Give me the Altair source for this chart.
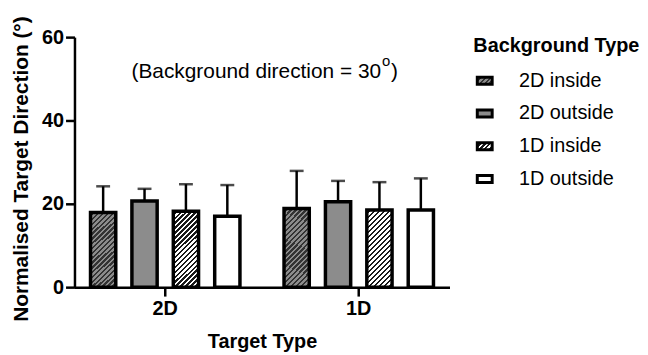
import altair as alt
import pandas as pd

# ---------------- data ----------------
target_types = ["2D", "1D"]
background_types = ["2D inside", "2D outside", "1D inside", "1D outside"]
means_2d = [17.9, 20.7, 18.2, 17.0]
sd_2d = [6.3, 2.9, 6.5, 7.5]
means_1d = [18.9, 20.5, 18.5, 18.5]
sd_1d = [9.0, 5.0, 6.7, 7.6]
y_ticks = [0, 20, 40, 60]
annotation_main = "(Background direction = 30"
annotation_sup = "o"
annotation_end = ")"
legend_title = "Background Type"
y_title = "Normalised Target Direction (°)"
x_title = "Target Type"

rows = []
for tt, means, sds in [("2D", means_2d, sd_2d), ("1D", means_1d, sd_1d)]:
    for bg, m, s in zip(background_types, means, sds):
        rows.append({"target": tt, "background": bg, "mean": m, "upper": m + s})
df = pd.DataFrame(rows)

# ---------------- layout / style ----------------
FONT = "Liberation Sans"
W, H = 378, 252
YMAX = 60
PI, PO = 0.2, 0.069        # outer band padding
PIO, POO = 0.39, 0.065     # offset band padding
step = W / (len(target_types) - PI + 2 * PO)
bandw = step * (1 - PI)
step_o = bandw / (len(background_types) - PIO + 2 * POO)
bar_w = step_o * (1 - PIO)

GRAY = "#8c8c8c"


def hatch(w, h, bg, fg, period, frac):
    L = w + h
    D = w * w + h * h
    p = period / L
    stops = []
    i = 0
    while i * p < 1:
        s = i * p
        m = min(s + frac * p, 1.0)
        e = min(s + p, 1.0)
        stops += [
            {"offset": s, "color": bg},
            {"offset": m, "color": bg},
            {"offset": m, "color": fg},
            {"offset": e, "color": fg},
        ]
        i += 1
    return {
        "gradient": "linear",
        "x1": 0, "y1": 0,
        "x2": w * L / D, "y2": h * L / D,
        "stops": stops,
    }


def series_fill(bg_name, w, h, period):
    if bg_name == "2D inside":
        return hatch(w, h, GRAY, "#333333", period, 0.5)
    if bg_name == "2D outside":
        return GRAY
    if bg_name == "1D inside":
        return hatch(w, h, "#ffffff", "#1a1a1a", period, 0.5)
    return "#ffffff"


x_enc = alt.X(
    "target:N", sort=target_types,
    scale=alt.Scale(paddingInner=PI, paddingOuter=PO),
    axis=alt.Axis(title=x_title, labelAngle=0, tickSize=9, tickWidth=2.5,
                  domainWidth=2.5, domainColor="black", tickColor="black",
                  labelColor="black", titleColor="black", labelFontSize=20,
                  labelFontWeight="bold", titleFontSize=20, titleFontWeight="bold",
                  labelPadding=3, titlePadding=13, grid=False),
)
xoff_enc = alt.XOffset(
    "background:N", sort=background_types,
    scale=alt.Scale(paddingInner=PIO, paddingOuter=POO),
)
y_scale = alt.Scale(domain=[0, YMAX], nice=False)
y_axis = alt.Axis(values=y_ticks, title=y_title, tickSize=9, tickWidth=2.5,
                  domainWidth=2.5, domainColor="black", tickColor="black",
                  labelColor="black", titleColor="black", labelFontSize=20,
                  labelFontWeight="bold", titleFontSize=21, titleFontWeight="bold",
                  labelPadding=2, titlePadding=10, titleY=H / 2 + 6.5, grid=False)

base = alt.Chart(df).encode(x=x_enc, xOffset=xoff_enc)

rules = base.mark_rule(color="black", strokeWidth=2.5).encode(
    y=alt.Y("mean:Q", scale=y_scale, axis=y_axis), y2="upper:Q"
)
caps = base.mark_tick(color="black", thickness=2.5, size=14).encode(
    y=alt.Y("upper:Q", scale=y_scale)
)

bar_layers = []
for bg in background_types:
    sub = df[df["background"] == bg]
    h = float(sub["mean"].mean()) * H / YMAX
    fill = series_fill(bg, bar_w, h, 5.0)
    bar_layers.append(
        base.transform_filter(alt.datum.background == bg)
        .mark_bar(fill=fill, stroke="black", strokeWidth=3.5, opacity=1)
        .encode(y=alt.Y("mean:Q", scale=y_scale))
    )


def note_text(txt, size, align, xpx, ypx):
    return alt.Chart(pd.DataFrame({"t": [txt]})).mark_text(
        fontSize=size, font=FONT, color="black", align=align, baseline="alphabetic"
    ).encode(text="t:N", x=alt.value(xpx), y=alt.value(ypx))


note1 = note_text(annotation_main, 21, "right", 309, 41)
note2 = note_text(annotation_sup, 15, "left", 310, 29)
note3 = note_text(annotation_end, 21, "left", 319, 41)

main = alt.layer(rules, caps, *bar_layers, note1, note2, note3).properties(width=W, height=H)

# ---------------- legend panel ----------------
leg_df = pd.DataFrame({"background": background_types})
leg_y = alt.Y("background:N", sort=background_types,
              scale=alt.Scale(type="point", range=[44, 143], padding=0), axis=None)
SYM_W, SYM_H = 15, 7
sym_path = "M-1,-0.467H1V0.467H-1Z"
leg_layers = []
for bg in background_types:
    fill = series_fill(bg, SYM_W, SYM_H, 5.0)
    leg_layers.append(
        alt.Chart(leg_df).transform_filter(alt.datum.background == bg)
        .mark_point(shape=sym_path, size=SYM_W * SYM_W, filled=True, fill=fill,
                    stroke="black", strokeWidth=3, opacity=1)
        .encode(y=leg_y, x=alt.value(11.5))
    )
leg_labels = alt.Chart(leg_df).mark_text(
    align="left", baseline="middle", fontSize=20, font=FONT, color="black"
).encode(y=leg_y, x=alt.value(46), text="background:N")
leg_title = alt.Chart(pd.DataFrame({"t": [legend_title]})).mark_text(
    align="left", baseline="middle", fontSize=20, fontWeight="bold", font=FONT, color="black"
).encode(text="t:N", x=alt.value(0), y=alt.value(9))

legend = alt.layer(*leg_layers, leg_labels, leg_title).properties(width=160, height=H)

chart = alt.hconcat(main, legend, spacing=22).properties(
    padding={"left": 2, "top": 6, "right": 0, "bottom": 0}
).configure(font=FONT).configure_view(stroke=None)

chart.save("out.html", embed_options={"renderer": "svg", "actions": False})
